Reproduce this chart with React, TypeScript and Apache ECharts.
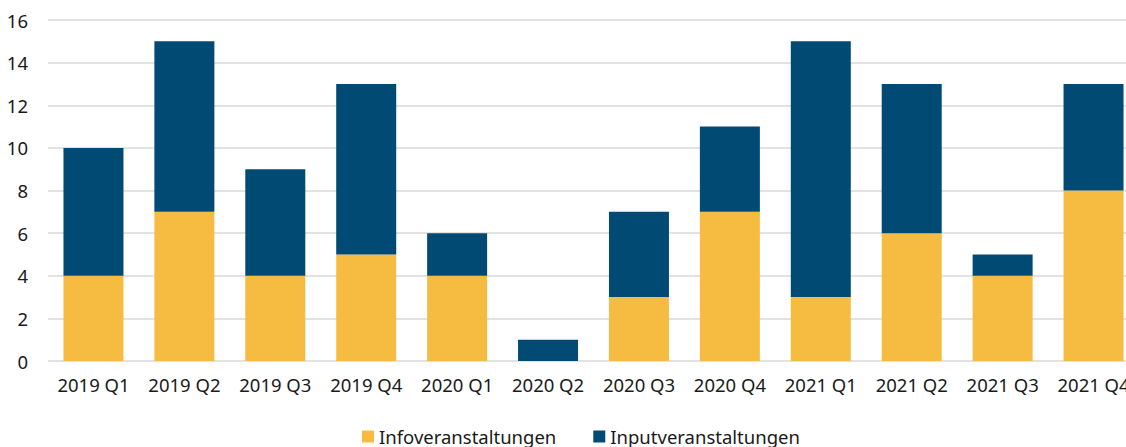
import React, { useEffect, useRef } from "react";
import * as echarts from "echarts";

const categories = ["2019 Q1", "2019 Q2", "2019 Q3", "2019 Q4", "2020 Q1", "2020 Q2", "2020 Q3", "2020 Q4", "2021 Q1", "2021 Q2", "2021 Q3", "2021 Q4"];
const infoValues = [4, 7, 4, 5, 4, 0, 3, 7, 3, 6, 4, 8];
const inputValues = [6, 8, 5, 8, 2, 1, 4, 4, 12, 7, 1, 5];
const seriesNames = ["Infoveranstaltungen", "Inputveranstaltungen"];

const FONT = "Noto Sans";
const FS = 18.5;

export default function App() {
  const ref = useRef<HTMLDivElement>(null);
  useEffect(() => {
    if (!ref.current) return;
    const chart = echarts.init(ref.current, null, { renderer: "svg" });
    chart.setOption({
      animation: false,
      textStyle: { fontFamily: FONT },
      grid: { left: 48, right: 0, top: 20, bottom: 86, containLabel: false },
      legend: {
        top: 422,
        left: 357,
        itemWidth: 12,
        itemHeight: 12,
        itemGap: 37,
        icon: "rect",
        textStyle: { fontSize: FS, color: "#1a1a1a", fontFamily: FONT },
        data: seriesNames,
      },
      xAxis: {
        type: "category",
        data: categories,
        axisLine: { show: false },
        axisTick: { show: false },
        axisLabel: { fontSize: FS, color: "#1a1a1a", margin: 14, interval: 0 },
      },
      yAxis: {
        type: "value",
        min: 0,
        max: 16,
        interval: 2,
        axisLine: { show: false },
        axisTick: { show: false },
        axisLabel: { fontSize: FS, color: "#1a1a1a", margin: 20 },
        splitLine: { lineStyle: { color: "#d9d9d9", width: 1.5 } },
      },
      series: [
        {
          name: seriesNames[0],
          type: "bar",
          stack: "total",
          data: infoValues,
          barWidth: 60,
          itemStyle: { color: "#F6BC41" },
        },
        {
          name: seriesNames[1],
          type: "bar",
          stack: "total",
          data: inputValues,
          barWidth: 60,
          itemStyle: { color: "#004A74" },
        },
      ],
    });
    return () => chart.dispose();
  }, []);
  return (
    <div style={{ position: "absolute", left: 0, top: 0, width: 1126, height: 447, overflow: "hidden" }}>
      <div ref={ref} style={{ width: 1139, height: 447 }} />
    </div>
  );
}
